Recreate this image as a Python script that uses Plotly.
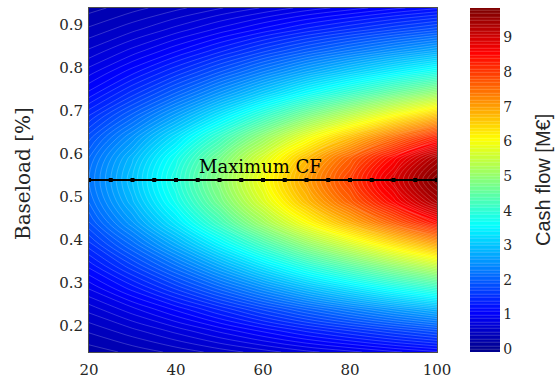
import plotly.graph_objects as go

# Installed capacity (x) and baseload share (y) of the evaluation grid
capacity = [20, 30, 40, 50, 60, 70, 80, 90, 100]
baseload = [0.14, 0.19, 0.24, 0.29, 0.34, 0.39, 0.44, 0.49, 0.54,
            0.59, 0.64, 0.69, 0.74, 0.79, 0.84, 0.89, 0.94]

# Cash flow [M€] for each capacity, listed over the baseload values above
cf_20 = [0.24, 0.42, 0.64, 0.92, 1.23, 1.56, 1.89, 2.11, 2.20, 2.11, 1.85, 1.50, 1.14, 0.86, 0.62, 0.42, 0.26]
cf_30 = [0.33, 0.57, 0.87, 1.26, 1.68, 2.13, 2.58, 2.88, 3.00, 2.88, 2.52, 2.04, 1.56, 1.17, 0.84, 0.57, 0.36]
cf_40 = [0.43, 0.74, 1.13, 1.64, 2.18, 2.77, 3.35, 3.74, 3.90, 3.74, 3.28, 2.65, 2.03, 1.52, 1.09, 0.74, 0.47]
cf_50 = [0.54, 0.93, 1.42, 2.06, 2.74, 3.48, 4.21, 4.70, 4.90, 4.70, 4.12, 3.33, 2.55, 1.91, 1.37, 0.93, 0.59]
cf_60 = [0.65, 1.13, 1.73, 2.50, 3.33, 4.22, 5.12, 5.71, 5.95, 5.71, 5.00, 4.05, 3.09, 2.32, 1.67, 1.13, 0.71]
cf_70 = [0.77, 1.33, 2.03, 2.94, 3.92, 4.97, 6.02, 6.72, 7.00, 6.72, 5.88, 4.76, 3.64, 2.73, 1.96, 1.33, 0.84]
cf_80 = [0.87, 1.51, 2.31, 3.34, 4.45, 5.64, 6.84, 7.63, 7.95, 7.63, 6.68, 5.41, 4.13, 3.10, 2.23, 1.51, 0.95]
cf_90 = [0.98, 1.69, 2.58, 3.74, 4.98, 6.32, 7.65, 8.54, 8.90, 8.54, 7.48, 6.05, 4.63, 3.47, 2.49, 1.69, 1.07]
cf_100 = [1.08, 1.86, 2.84, 4.12, 5.49, 6.96, 8.43, 9.41, 9.80, 9.41, 8.23, 6.66, 5.10, 3.82, 2.74, 1.86, 1.18]

# Optimal baseload share for each capacity step
opt_capacity = [20, 25, 30, 35, 40, 45, 50, 55, 60, 65, 70, 75, 80, 85, 90, 95, 100]
opt_baseload = [0.54] * 17

x_ticks = [20, 40, 60, 80, 100]
y_ticks = [0.2, 0.3, 0.4, 0.5, 0.6, 0.7, 0.8, 0.9]
cb_ticks = [0, 1, 2, 3, 4, 5, 6, 7, 8, 9]

columns = [cf_20, cf_30, cf_40, cf_50, cf_60, cf_70, cf_80, cf_90, cf_100]
z = [[col[i] for col in columns] for i in range(len(baseload))]

jet = [
    [0.0, "rgb(0,0,143)"],
    [0.111, "rgb(0,0,255)"],
    [0.365, "rgb(0,255,255)"],
    [0.619, "rgb(255,255,0)"],
    [0.873, "rgb(255,0,0)"],
    [1.0, "rgb(128,0,0)"],
]

SERIF = "DejaVu Serif"
SANS = "Liberation Sans"

# plot area in pixels
L, R, T, B = 89, 437, 7, 353
W, H = 557, 386
PW, PH = R - L, B - T

fig = go.Figure()

fig.add_trace(go.Contour(
    x=capacity, y=baseload, z=z,
    colorscale=jet, zmin=-0.08, zmax=9.85,
    autocontour=False,
    contours=dict(start=0.0, end=9.9, size=0.1, coloring="fill"),
    line=dict(color="rgba(255,255,255,0.4)", width=0.5, smoothing=1.0),
    colorbar=dict(
        x=(470 - L) / PW, xanchor="left", xref="paper", xpad=0,
        y=0.5, yanchor="middle", len=1.0, lenmode="fraction", ypad=0,
        thickness=30, outlinewidth=0,
        tickmode="array", tickvals=cb_ticks, ticks="",
        tickfont=dict(family=SERIF, size=14, color="#262626"),
    ),
    hoverinfo="skip",
))

fig.add_trace(go.Scatter(
    x=opt_capacity, y=opt_baseload, mode="lines+markers",
    line=dict(color="black", width=2),
    marker=dict(color="black", size=4, symbol="square"),
    showlegend=False, hoverinfo="skip",
))

fig.add_annotation(
    x=59.5, y=0.571, xref="x", yref="y", text="Maximum CF",
    showarrow=False, xanchor="center", yanchor="middle",
    font=dict(family=SERIF, size=18, color="black"),
)

# rotated titles placed in pixel terms
fig.add_annotation(
    x=(543 - L) / PW, y=(B - 180) / PH, xref="paper", yref="paper",
    text="Cash flow [M€]",
    showarrow=False, textangle=-90, xanchor="center", yanchor="middle",
    font=dict(family=SANS, size=20, color="#262626"),
)
fig.add_annotation(
    x=(23 - L) / PW, y=(B - 174) / PH, xref="paper", yref="paper",
    text="Baseload [%]",
    showarrow=False, textangle=-90, xanchor="center", yanchor="middle",
    font=dict(family=SERIF, size=20, color="#262626"),
)

fig.update_layout(
    width=W, height=H,
    margin=dict(l=L, r=W - R, t=T, b=H - B),
    paper_bgcolor="white", plot_bgcolor="white",
    showlegend=False,
    xaxis=dict(
        range=[20, 100], tickmode="array", tickvals=x_ticks,
        showgrid=False, zeroline=False, ticks="", ticklabelstandoff=4,
        showline=True, mirror=True, linecolor="#4d4d4d", linewidth=1,
        tickfont=dict(family=SERIF, size=15, color="#262626"),
    ),
    yaxis=dict(
        range=[0.14, 0.94], tickmode="array", tickvals=y_ticks,
        showgrid=False, zeroline=False, ticks="", ticklabelstandoff=2,
        showline=True, mirror=True, linecolor="#4d4d4d", linewidth=1,
        tickfont=dict(family=SERIF, size=15, color="#262626"),
    ),
)

fig.write_html("out.html")
